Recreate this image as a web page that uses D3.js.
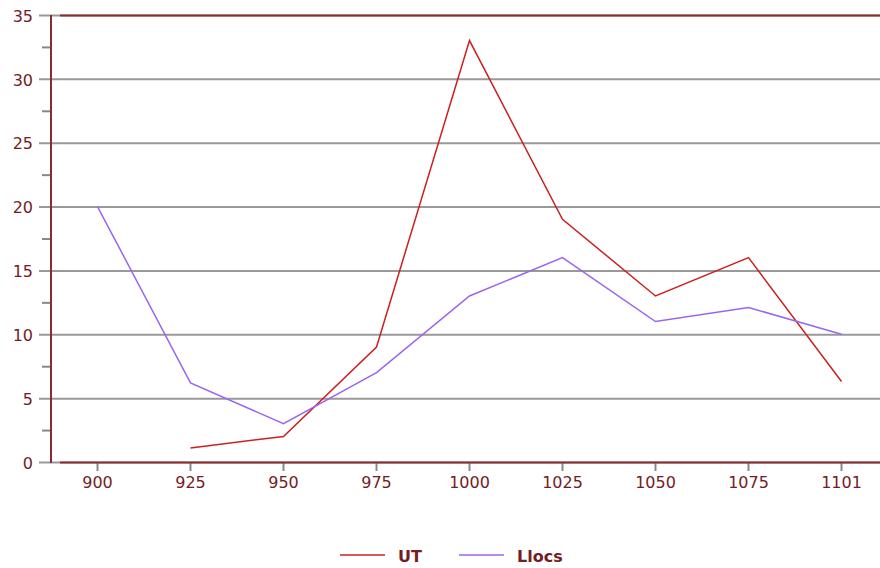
<!DOCTYPE html>
<html><head><meta charset="utf-8">
<script src="https://cdn.jsdelivr.net/npm/d3@7"></script>
<style>body{margin:0;background:#fff}svg{display:block}</style>
</head><body>
<script>
const categories = ["900","925","950","975","1000","1025","1050","1075","1101"];
const utValues = [null,1.1,2,9,33,19,13,16,6.3];
const llocsValues = [20,6.2,3,7,13,16,11,12.1,10];
const yTicks = [0,5,10,15,20,25,30,35];
const yMinorTicks = [2.5,7.5,12.5,17.5,22.5,27.5,32.5];
const seriesNames = ["UT","Llocs"];
const seriesColors = ["#cc2020","#9966ee"];

(function(){
const W=880,H=568;
const mLeft=51, mTop=15, mBottom=462, mRight=888;
const svg=d3.select("body").append("svg").attr("width",W).attr("height",H);
const x=d3.scalePoint().domain(categories).range([mLeft,mRight]).padding(0.5);
const y=d3.scaleLinear().domain([0,35]).range([mBottom,mTop]);
const font="DejaVu Sans, Verdana, sans-serif";
const labelColor="#741c24";
const axisColor="#8b2c2c";

svg.append("g").selectAll("line").data(yTicks).join("line")
 .attr("x1",39).attr("x2",W).attr("y1",d=>y(d)+0.5).attr("y2",d=>y(d)+0.5)
 .attr("stroke","#999").attr("stroke-width",2);
svg.append("g").selectAll("line").data(yMinorTicks).join("line")
 .attr("x1",42).attr("x2",mLeft).attr("y1",d=>y(d)+0.5).attr("y2",d=>y(d)+0.5)
 .attr("stroke","#888").attr("stroke-width",2);
svg.append("g").selectAll("text").data(yTicks).join("text")
 .attr("x",33).attr("y",d=>y(d)+1).attr("dy","0.36em").attr("text-anchor","end")
 .attr("font-family",font).attr("font-size",16).attr("fill",labelColor).text(d=>d);
svg.append("g").selectAll("line").data(categories).join("line")
 .attr("x1",d=>x(d)).attr("x2",d=>x(d)).attr("y1",mBottom).attr("y2",mBottom+9)
 .attr("stroke","#888").attr("stroke-width",2);
svg.append("g").selectAll("text").data(categories).join("text")
 .attr("x",d=>x(d)).attr("y",mBottom+20).attr("dy","0.36em").attr("text-anchor","middle")
 .attr("font-family",font).attr("font-size",16).attr("fill",labelColor).text(d=>d);
svg.append("line").attr("x1",mLeft).attr("x2",mLeft).attr("y1",mTop).attr("y2",mBottom+1)
 .attr("stroke",axisColor).attr("stroke-width",2);
svg.append("line").attr("x1",60).attr("x2",W).attr("y1",mBottom+0.5).attr("y2",mBottom+0.5)
 .attr("stroke",axisColor).attr("stroke-width",2);
svg.append("line").attr("x1",60).attr("x2",W).attr("y1",mTop+0.5).attr("y2",mTop+0.5)
 .attr("stroke",axisColor).attr("stroke-width",2);

const series=[utValues,llocsValues];
const line=d3.line().defined(d=>d.v!=null).x(d=>x(d.c)).y(d=>y(d.v));
series.forEach((vals,i)=>{
  svg.append("path").datum(categories.map((c,j)=>({c,v:vals[j]})))
   .attr("d",line).attr("fill","none").attr("stroke",seriesColors[i]).attr("stroke-width",1.5);
});

const legX=[340,459];
seriesNames.forEach((n,i)=>{
  svg.append("line").attr("x1",legX[i]).attr("x2",legX[i]+45).attr("y1",555).attr("y2",555)
   .attr("stroke",seriesColors[i]).attr("stroke-width",1.5);
  svg.append("text").attr("x",legX[i]+58).attr("y",556).attr("dy","0.36em")
   .attr("font-family",font).attr("font-size",16).attr("font-weight","bold")
   .attr("fill",labelColor).text(n);
});
})();
</script>
</body></html>
